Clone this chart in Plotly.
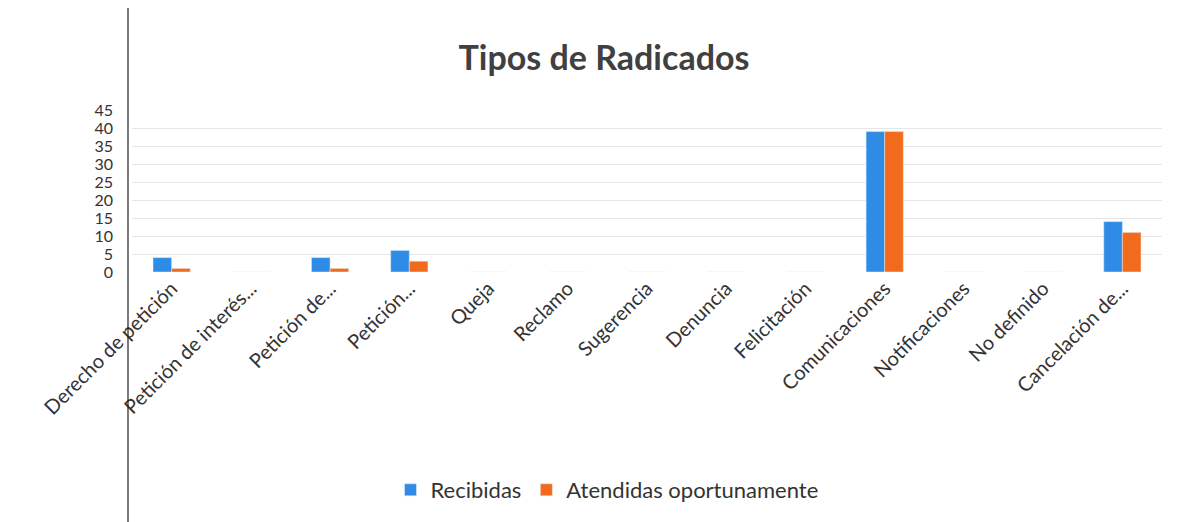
import plotly.graph_objects as go

categories = ["Derecho de petición", "Petición de interés...", "Petición de...", "Petición...",
              "Queja", "Reclamo", "Sugerencia", "Denuncia", "Felicitación", "Comunicaciones",
              "Notificaciones", "No definido", "Cancelación de..."]
recibidas = [4, 0, 4, 6, 0, 0, 0, 0, 0, 39, 0, 0, 14]
atendidas = [1, 0, 1, 3, 0, 0, 0, 0, 0, 39, 0, 0, 11]
y_ticks = [0, 5, 10, 15, 20, 25, 30, 35, 40, 45]

# page has an 8px body margin; figure is sized to fit the window
OFF = 8
W, H = 1181 - OFF, 522 - OFF
L, R, T, B = 132 - OFF, 19, 110 - OFF, 250
pw = W - L - R
ph = H - T - B

fig = go.Figure()
fig.add_trace(go.Bar(name="Recibidas", x=categories, y=recibidas, marker_color="#2F8CE6"))
fig.add_trace(go.Bar(name="Atendidas oportunamente", x=categories, y=atendidas, marker_color="#F26A1B"))

fig.update_layout(
    width=W, height=H,
    margin=dict(l=L, r=R, t=T, b=B, autoexpand=False),
    paper_bgcolor="white", plot_bgcolor="white",
    barmode="group", bargap=0.53, bargroupgap=0,
    font=dict(family="Lato, 'Open Sans', sans-serif", color="#333333"),
    title=dict(text="<b>Tipos de Radicados</b>", x=(604 - OFF) / W, xanchor="center",
               y=1 - (58 - OFF) / H, yanchor="middle", font=dict(size=34, color="#404040")),
    legend=dict(orientation="h", x=(607 - 132) / pw, xanchor="center",
                y=(272 - 490) / ph, yanchor="middle",
                font=dict(size=22, color="#333333"), itemwidth=30),
    xaxis=dict(tickangle=-45, tickfont=dict(size=20, color="#333333"), showgrid=False,
               showline=False, ticks="", automargin=False),
    yaxis=dict(range=[0, 45], tickvals=y_ticks, tickfont=dict(size=16, color="#333333"),
               showgrid=True, gridcolor="#E6E6E6", gridwidth=1, zeroline=False,
               showline=False, ticklabelstandoff=18, automargin=False),
    showlegend=True,
    shapes=[dict(type="line", xref="paper", yref="paper",
                 x0=(128 - 132) / pw, x1=(128 - 132) / pw,
                 y0=-B / ph, y1=1 + T / ph, line=dict(color="#222222", width=1.2))],
)

fig.write_html("out.html")
